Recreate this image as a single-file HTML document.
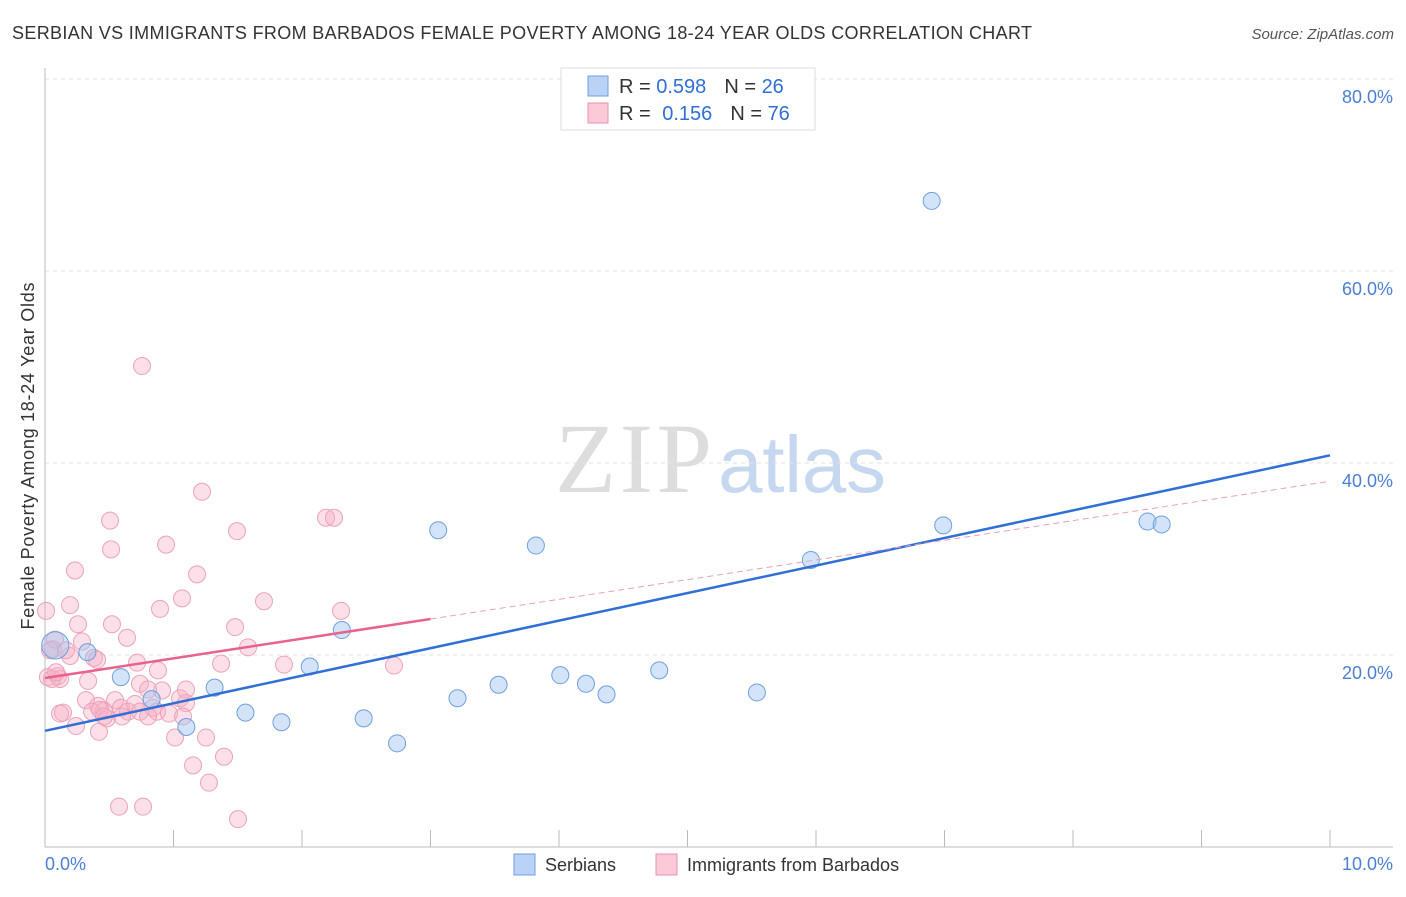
<!DOCTYPE html>
<html><head><meta charset="utf-8"><style>
body{margin:0;background:#fff;font-family:"Liberation Sans",sans-serif}
</style></head><body>
<svg id="chart" width="1406" height="892" xmlns="http://www.w3.org/2000/svg" style="font-family:'Liberation Sans',sans-serif">
<text x="12" y="39" font-size="18" fill="#333" textLength="1020">SERBIAN VS IMMIGRANTS FROM BARBADOS FEMALE POVERTY AMONG 18-24 YEAR OLDS CORRELATION CHART</text>
<text x="1394" y="39" font-size="15" fill="#555" font-style="italic" text-anchor="end">Source: ZipAtlas.com</text>
<text x="555" y="492" font-size="100" fill="#ddd" textLength="157" font-family="'Liberation Serif',serif">ZIP</text>
<text x="718" y="492" font-size="80" fill="#c5d8f0" textLength="168">atlas</text>
<text transform="translate(34,456) rotate(-90)" font-size="18" fill="#333" text-anchor="middle" textLength="347">Female Poverty Among 18-24 Year Olds</text>
<g id="grid"></g><g id="marks"></g><g id="lines"></g>
<text x="45" y="870" font-size="18" fill="#4a7fd4">0.0%</text>
<text x="1393" y="870" font-size="18" fill="#4a7fd4" text-anchor="end">10.0%</text>
<g>
<rect x="561" y="68" width="254" height="62" fill="#fff" stroke="#ddd"/>
<rect x="588" y="76" width="20" height="20" fill="#b9d2f5" stroke="#6f9fe0"/>
<rect x="588" y="103" width="20" height="20" fill="#fbc9d8" stroke="#e891ab"/>
<text x="619" y="93" font-size="20" fill="#333">R = <tspan fill="#2f6fd6">0.598</tspan><tspan dx="18">N = </tspan><tspan fill="#2f6fd6">26</tspan></text>
<text x="619" y="120" font-size="20" fill="#333">R = <tspan fill="#2f6fd6" dx="6">0.156</tspan><tspan dx="18">N = </tspan><tspan fill="#2f6fd6">76</tspan></text>
</g>
<g>
<rect x="514" y="854" width="21" height="21" fill="#b9d2f5" stroke="#6f9fe0"/>
<text x="545" y="871" font-size="18" fill="#333">Serbians</text>
<rect x="656" y="854" width="21" height="21" fill="#fbc9d8" stroke="#e891ab"/>
<text x="687" y="871" font-size="18" fill="#333">Immigrants from Barbados</text>
</g>
</svg>
<script>
const yTicks=[20,40,60,80];
const yTickLabels=["20.0%","40.0%","60.0%","80.0%"];
const pinkX=[0.755,1.222,0.506,2.187,2.249,0.514,0.942,1.494,0.233,1.183,0.195,1.066,1.704,0.895,2.304,0.008,0.257,0.521,1.479,0.638,0.288,0.062,1.58,0.381,0.195,0.716,0.405,0.879,1.37,1.86,2.716,0.023,0.101,0.117,0.335,0.739,0.911,1.051,1.097,0.319,0.545,0.412,0.459,0.591,0.646,0.84,0.872,0.965,1.074,0.14,0.366,0.482,0.241,0.42,1.012,1.253,1.393,1.152,1.276,0.576,0.763,1.502,0.078,0.039,0.163,0.599,0.7,0.802,1.097,0.428,0.117,0.459,0.739,0.802,0.054,0.086];
const pinkY=[50.1,37.0,34.0,34.3,34.3,31.0,31.5,32.9,28.8,28.4,25.2,25.9,25.6,24.8,24.6,24.6,23.2,23.2,22.9,21.8,21.4,20.6,20.8,19.7,19.9,19.2,19.5,18.4,19.1,19.0,18.9,17.7,17.8,17.5,17.3,17.0,16.3,15.5,15.0,15.3,15.3,14.7,14.2,14.5,14.1,14.5,14.1,13.9,13.6,14.0,14.1,13.4,12.6,12.0,11.4,11.4,9.4,8.5,6.7,4.2,4.2,2.9,21.6,20.5,20.5,13.6,14.9,16.4,16.4,14.3,13.9,13.6,14.1,13.6,17.5,18.2];
const blueX=[6.9,6.99,8.58,8.69,3.06,3.82,5.96,2.31,0.08,0.33,2.06,0.59,1.32,4.78,4.01,4.21,3.53,4.37,3.21,5.54,0.83,1.56,1.84,2.48,1.1,2.74];
const blueY=[67.3,33.5,33.9,33.6,33.0,31.4,29.9,22.6,21.0,20.3,18.8,17.7,16.6,18.4,17.9,17.0,16.9,15.9,15.5,16.1,15.4,14.0,13.0,13.4,12.5,10.8];
const blueSize=[1,1,1,1,1,1,1,1,1.6,1,1,1,1,1,1,1,1,1,1,1,1,1,1,1,1,1];
const blueTrend=[12.1,2.87];
const pinkTrend=[17.6,2.05];
const NS="http://www.w3.org/2000/svg";
const X=v=>45+v*128.5, Y=v=>847-v*9.6;
function mk(t,a,p){const e=document.createElementNS(NS,t);for(const k in a)e.setAttribute(k,a[k]);document.getElementById(p).appendChild(e);return e;}
yTicks.forEach((t,i)=>{
 const l=mk('line',{x1:45,x2:1393,y1:Y(t),y2:Y(t),stroke:'#e2e2e2','stroke-dasharray':'4,4'},'grid');
 
 
 const tx=mk('text',{x:1393,y:Y(t)+24,'font-size':18,fill:'#4a7fd4','text-anchor':'end'},'grid');
 tx.textContent=yTickLabels[i];
 
 
});
mk('line',{x1:45,x2:45,y1:68,y2:847,stroke:'#bbb'},'grid');
mk('line',{x1:45,x2:1393,y1:847,y2:847,stroke:'#bbb'},'grid');
for(let k=0;k<=10;k++){const t=mk('line',{x1:X(k),x2:X(k),y1:830,y2:847,stroke:'#bbb'},'grid');
 
 }
pinkX.forEach((x,i)=>{const c=mk('circle',{cx:X(x),cy:Y(pinkY[i]),r:8.5,fill:'rgba(248,175,198,0.4)',stroke:'#eba3b9','stroke-width':1},'marks');
 
 });
blueX.forEach((x,i)=>{const c=mk('circle',{cx:X(x),cy:Y(blueY[i]),r:8.5*blueSize[i],fill:'rgba(160,195,240,0.45)',stroke:'#6f9fe0','stroke-width':1},'marks');
 
 });
const bl=mk('line',{x1:X(0),y1:Y(blueTrend[0]),x2:X(10),y2:Y(blueTrend[0]+10*blueTrend[1]),stroke:'#2f6fd6','stroke-width':2.5},'lines');


const pl=mk('line',{x1:X(0),y1:Y(pinkTrend[0]),x2:X(3),y2:Y(pinkTrend[0]+3*pinkTrend[1]),stroke:'#e8628c','stroke-width':2.5},'lines');


const pd=mk('line',{x1:X(3),y1:Y(pinkTrend[0]+3*pinkTrend[1]),x2:X(10),y2:Y(pinkTrend[0]+10*pinkTrend[1]),stroke:'#e8a0b8','stroke-width':1,'stroke-dasharray':'6,4'},'lines');


</script>
</body></html>
